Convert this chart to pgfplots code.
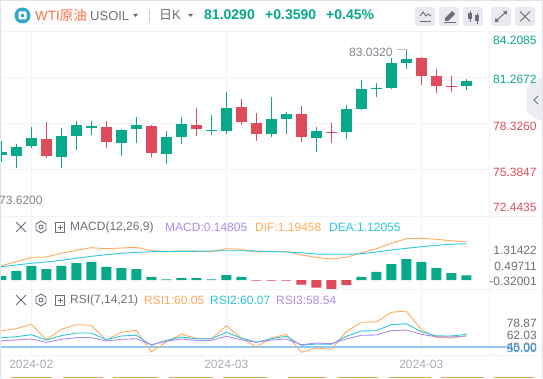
\documentclass[border=0pt]{standalone}
\usepackage{fontspec}
\usepackage{pgfplots}
\usepackage{pgfplotstable}
\pgfplotsset{compat=1.18}
\setmainfont{Liberation Sans}
\newfontfamily\cjk{Noto Sans CJK SC}
\newcommand\fs[1]{\fontsize{#1}{#1}\selectfont}
\definecolor{up}{HTML}{08A88A}
\definecolor{down}{HTML}{DC4C5A}
\definecolor{lorange}{HTML}{FFAB5B}
\definecolor{lcyan}{HTML}{2DC6DF}
\definecolor{lpurple}{HTML}{AD8BEE}
\definecolor{lblue}{HTML}{90C8F8}
\definecolor{gridc}{HTML}{F1F3F7}
\definecolor{btn}{HTML}{E8EAF0}
\definecolor{icon}{HTML}{6B6E7A}
\definecolor{txt}{HTML}{6E7079}
\definecolor{edge}{HTML}{DFE3EE}
\definecolor{logo}{HTML}{2FA8C9}
\definecolor{wti}{HTML}{FF7043}
\definecolor{strip}{HTML}{E0A850}
\definecolor{datec}{HTML}{A9ADB8}
\definecolor{bluetxt}{HTML}{3F9BEA}
\pgfplotstableread{
i top bot high low
0 76.51 76.34 77.21 75.90
1 76.83 76.28 77.02 75.50
2 77.40 76.89 78.10 76.77
4 77.53 76.19 78.04 75.50
5 78.23 77.53 78.48 76.64
6 78.17 78.04 78.48 77.59
8 77.91 77.09 77.98 76.26
9 78.23 77.98 78.74 77.09
11 77.47 76.39 77.85 75.75
12 78.29 77.47 78.74 77.02
14 77.91 77.85 78.87 77.59
15 79.31 77.85 80.33 77.66
18 78.61 77.66 80.01 77.47
19 78.93 78.61 79.06 77.66
21 77.85 77.40 78.10 76.51
23 79.25 77.78 79.50 77.34
24 80.52 79.25 81.09 79.18
25 80.58 80.52 80.90 80.01
26 82.17 80.58 82.49 80.54
27 82.43 82.17 83.06 81.79
31 81.03 80.71 81.16 80.46
}\upcandles
\pgfplotstableread{
i top bot high low
3 77.34 76.28 78.42 76.13
7 78.10 77.15 78.48 76.77
10 78.17 76.45 78.23 76.19
13 78.23 77.98 79.31 77.53
16 79.37 78.42 79.88 78.23
17 78.36 77.66 78.99 77.21
20 78.93 77.47 79.44 77.15
22 77.78 77.72 78.36 77.09
28 82.49 81.35 82.55 80.77
29 81.35 80.71 81.79 80.27
30 80.73 80.67 81.35 80.35
}\downcandles
\pgfplotstableread{
i v
0 .125
1 .281
2 .437
3 .343
4 .437
5 .530
6 .562
7 .406
8 .374
9 .343
10 .094
11 .02
12 .062
13 .062
14 .02
15 .156
16 .094
24 .094
25 .25
26 .499
27 .655
28 .562
29 .374
30 .218
31 .148
}\histup
\pgfplotstableread{
i v
17 -.02
18 -.02
19 -.02
20 -.146
21 -.24
22 -.28
23 -.156
}\histdown
\pgfplotstableread{
i dif dea
0 .446 .415
1 .571 .468
2 .708 .521
3 .718 .562
4 .833 .615
5 .927 .677
6 1.008 .739
7 .977 .789
8 .998 .833
9 1.020 .864
10 .914 .883
11 .895 .883
12 .905 .895
13 .905 .895
14 .883 .905
15 .977 .914
16 .958 .914
17 .874 .905
18 .895 .889
19 .883 .874
20 .780 .852
21 .708 .811
22 .655 .802
23 .708 .802
24 .852 .821
25 .977 .874
26 1.145 .936
27 1.289 .989
28 1.301 1.039
29 1.270 1.083
30 1.226 1.114
31 1.195 1.133
}\macdlines
\pgfplotstableread{
i a b c
0 67.08 57.60 53.53
1 69.79 58.95 54.48
2 75.75 61.66 55.83
3 54.89 54.48 51.36
4 68.98 60.31 55.43
5 75.21 63.96 57.60
6 74.40 63.96 57.60
7 54.48 54.89 53.13
8 64.91 59.90 55.43
9 67.62 60.85 56.24
10 38.22 47.30 48.11
11 51.77 54.07 52.72
12 62.20 58.55 55.83
13 56.78 56.24 54.07
14 55.83 56.24 54.07
15 73.86 64.91 59.49
16 57.19 57.19 54.89
17 45.00 51.36 51.36
18 57.19 56.24 54.48
19 62.20 59.49 55.83
20 37.81 47.30 48.11
21 43.64 49.06 50.42
22 41.88 48.65 49.47
23 65.73 59.49 55.83
24 78.46 66.68 60.85
25 78.87 67.08 61.25
26 92.01 75.21 67.08
27 93.78 76.57 68.03
28 68.44 65.73 62.20
29 58.14 60.05 58.95
30 57.19 59.90 58.55
31 60.05 62.20 59.90
}\rsilines
\pgfplotsset{panel/.style={
  scale only axis, width=489pt, xmin=-0.0867, xmax=32.513,
  xtick={2,15,28}, xticklabels={}, ymajorgrids, xmajorgrids,
  grid style={gridc, line width=0.9pt},
  axis line style={gridc, line width=0.9pt},
  major tick length=0pt, yticklabels={}, anchor=south west},
  wick/.style={draw=none, mark=none, forget plot, error bars/.cd, y dir=plus, y explicit, error mark=none, error bar style={#1, line width=1pt}},
  body/.style={draw=none, mark=none, forget plot, error bars/.cd, y dir=plus, y explicit, error mark=none, error bar style={#1, line width=11pt}}
}
\begin{document}
\begin{tikzpicture}
\path[use as bounding box] (0pt,0pt) rectangle (543pt,378pt);
\fill[white] (0pt,0pt) rectangle (543pt,378pt);
\begin{scope}[x=1pt,y=-1pt,yshift=378pt]
\fill[btn!85!white] (543,77) -- (533,82) -- (527,88) -- (527,112) -- (533,117) -- (543,122) -- cycle;
\draw[icon, line width=1pt] (538,96) -- (534,100) -- (538,104);
\draw[gridc, line width=0.9pt] (489,31.5) -- (541,31.5);
\draw[gridc, line width=0.9pt] (489,216) -- (541,216);
\draw[gridc, line width=0.9pt] (489,289) -- (541,289);
\draw[gridc, line width=0.9pt] (489,355) -- (541,355);
\end{scope}
\begin{axis}[panel, at={(0pt,162pt)}, height=185pt, ymin=72.4435, ymax=84.2085,
  ytick={72.4435,75.3847,78.3260,81.2672,84.2085}]
\addplot[wick=up] table[x=i, y=low, y error plus expr=\thisrow{high}-\thisrow{low}] {\upcandles};
\addplot[wick=down] table[x=i, y=low, y error plus expr=\thisrow{high}-\thisrow{low}] {\downcandles};
\addplot[body=up] table[x=i, y=bot, y error plus expr=\thisrow{top}-\thisrow{bot}] {\upcandles};
\addplot[body=down] table[x=i, y=bot, y error plus expr=\thisrow{top}-\thisrow{bot}] {\downcandles};
\end{axis}
\begin{axis}[panel, at={(0pt,89pt)}, height=73pt, ymin=-0.2808, ymax=1.9968, ytick=\empty, ymajorgrids=false]
\addplot[ybar, bar width=10pt, bar shift=0pt, fill=up, draw=none] table[x=i,y=v] {\histup};
\addplot[ybar, bar width=10pt, bar shift=0pt, fill=down, draw=none] table[x=i,y=v] {\histdown};
\addplot[lorange, line width=0.9pt, mark=none] table[x=i,y=dif] {\macdlines};
\addplot[lcyan, line width=0.9pt, mark=none] table[x=i,y=dea] {\macdlines};
\end{axis}
\begin{axis}[panel, at={(0pt,23pt)}, height=66pt, ymin=34.15, ymax=123.6, ytick=\empty, ymajorgrids=false,
  clip=false, xticklabels={2024-02,2024-03,2024-03},
  xticklabel style={font=\fs{12}, text=datec, inner sep=0pt, yshift=-5pt}]
\addplot[lblue, line width=1.8pt, mark=none] coordinates {(-0.0867,45) (33.7,45)};
\addplot[lorange, line width=0.9pt, mark=none] table[x=i,y=a] {\rsilines};
\addplot[lcyan, line width=0.9pt, mark=none] table[x=i,y=b] {\rsilines};
\addplot[lpurple, line width=0.9pt, mark=none] table[x=i,y=c] {\rsilines};
\end{axis}
\begin{scope}[x=1pt,y=-1pt,yshift=378pt, every node/.style={inner sep=0pt, anchor=west}]
\fill[edge] (0,0) rectangle (543,1);
\fill[edge] (0,0) rectangle (1,378);
\fill[edge] (541.7,0) rectangle (543,378);
\fill[logo] (22.5,15.5) circle (8);
\fill[white, rounded corners=1pt] (18.5,11.5) rectangle (26.5,19.5);
\fill[logo] (21,14) rectangle (24,17);
\node[text=wti, font=\fs{13.5}] at (35,15) {WTI{\cjk 原油}};
\node[text=txt, font=\fs{13}] at (90,16) {USOIL};
\fill[icon] (133,14) -- (138,14) -- (135.5,17) -- cycle;
\draw[black!20, line width=0.8pt] (149.5,10) -- (149.5,22);
\node[text=txt, font=\fs{13}] at (159,15) {{\cjk 日}K};
\fill[icon] (188,14) -- (193,14) -- (190.5,17) -- cycle;
\node[text=up, font=\fs{14}\bfseries] at (204,14.5) {81.0290};
\node[text=up, font=\fs{14}\bfseries] at (265,14.5) {+0.3590};
\node[text=up, font=\fs{14}\bfseries] at (326,14.5) {+0.45\%};
\foreach \a in {415,439,463,491,515}
  \fill[btn, rounded corners=3pt] (\a,7) rectangle ++(20,19);
\draw[icon, line width=0.9pt] (420,16) -- (423,12) -- (426,16) -- (428,14) -- (431,16);
\draw[icon, line width=0.9pt] (420,21) -- (431,21);
\fill[icon] (445,18) -- (452,11) -- (455,14) -- (448,21) -- (445,21) -- cycle;
\draw[icon, line width=0.9pt] (444,22.5) -- (456,22.5);
\draw[icon, line width=0.8pt] (470,11) -- (470,22) (477,13) -- (477,24);
\fill[icon] (468,13) rectangle (472,19);
\fill[icon] (475,15) rectangle (479,21);
\draw[icon, line width=1pt] (496,21) -- (506,12);
\fill[icon] (507,11) -- (503,11.5) -- (506.5,15) -- cycle;
\fill[icon] (495,22) -- (499,21.5) -- (495.5,18) -- cycle;
\draw[icon, line width=1pt] (520,11.5) -- (530,21.5) (530,11.5) -- (520,21.5);
\node[text=up, font=\fs{12}] at (493,40) {84.2085};
\node[text=up, font=\fs{12}] at (493,79) {81.2672};
\node[text=down, font=\fs{12}] at (493,126) {78.3260};
\node[text=down, font=\fs{12}] at (493,172) {75.3847};
\node[text=down, font=\fs{12}] at (493,207.5) {72.4435};
\node[text=txt!85, font=\fs{12}] at (349,52) {83.0320};
\draw[txt!70, line width=0.7pt, densely dotted] (397,49) -- (407,49);
\node[text=txt!85, font=\fs{12}] at (-1,200) {73.6200};
\draw[icon, line width=0.9pt] (16,222) -- (26,232) (26,222) -- (16,232);
\draw[icon, line width=0.9pt] (41,221) -- (46,224) -- (46,230) -- (41,233) -- (36,230) -- (36,224) -- cycle;
\draw[icon, line width=0.9pt] (41,227) circle (2);
\draw[icon, line width=0.9pt] (55.5,222) rectangle (64.5,232) (57.5,227) -- (62.5,227) (60,224.5) -- (60,229.5);
\node[text=txt, font=\fs{12}] at (70,227.5) {MACD(12,26,9)};
\node[text=lpurple, font=\fs{12}] at (165,227.5) {MACD:0.14805};
\node[text=lorange, font=\fs{12}] at (255,227.5) {DIF:1.19458};
\node[text=lcyan, font=\fs{12}] at (329,227.5) {DEA:1.12055};
\node[text=txt, font=\fs{12}, anchor=east] at (537,250) {1.31422};
\node[text=txt, font=\fs{12}, anchor=east] at (537,266.5) {0.49711};
\node[text=txt, font=\fs{12}, anchor=east] at (537,281) {-0.32001};
\draw[icon, line width=0.9pt] (16,295) -- (26,305) (26,295) -- (16,305);
\draw[icon, line width=0.9pt] (41,294) -- (46,297) -- (46,303) -- (41,306) -- (36,303) -- (36,297) -- cycle;
\draw[icon, line width=0.9pt] (41,300) circle (2);
\draw[icon, line width=0.9pt] (55.5,295) rectangle (64.5,305) (57.5,300) -- (62.5,300) (60,297.5) -- (60,302.5);
\node[text=txt, font=\fs{12}] at (70,300.5) {RSI(7,14,21)};
\node[text=lorange, font=\fs{12}] at (144,300.5) {RSI1:60.05};
\node[text=lcyan, font=\fs{12}] at (210,300.5) {RSI2:60.07};
\node[text=lpurple, font=\fs{12}] at (276,300.5) {RSI3:58.54};
\node[text=txt, font=\fs{12}, anchor=east] at (537,323) {78.87};
\node[text=txt, font=\fs{12}, anchor=east] at (537,335) {62.03};
\node[text=txt, font=\fs{12}, anchor=east] at (537,347) {45.00};
\node[text=bluetxt, font=\fs{12}, anchor=east] at (537,348) {50.00};
\foreach \a/\b in {11/52,63/103,113/158,169/213,223/267,288/326,338/378,389/431,441/484,494/534}
  \fill[strip] (\a,376.8) rectangle (\b,378);
\end{scope}
\end{tikzpicture}
\end{document}
